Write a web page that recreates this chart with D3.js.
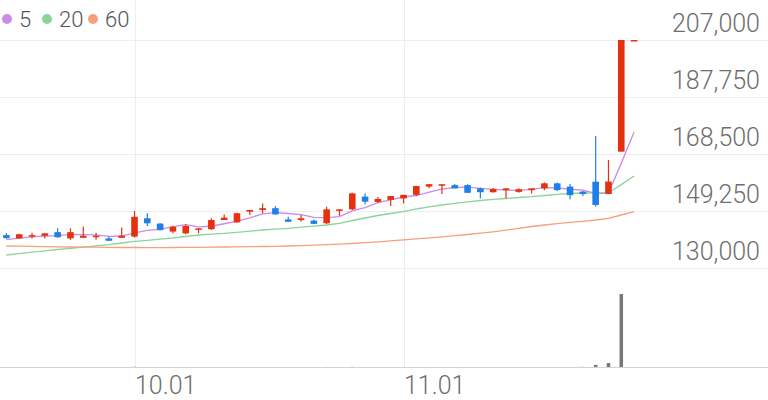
<!DOCTYPE html>
<html><head><meta charset="utf-8">
<script src="https://cdn.jsdelivr.net/npm/d3@7"></script>
<style>
html,body{margin:0;padding:0;background:#fff;}
svg{display:block;font-family:Roboto,"Noto Sans",sans-serif;}
</style></head>
<body>
<svg id="chart" width="768" height="400"></svg>
<script>
const dates = ["09.17","09.18","09.19","09.20","09.23","09.24","09.25","09.26","09.27","09.30",
"10.01","10.02","10.04","10.07","10.08","10.10","10.11","10.14","10.15","10.16","10.17","10.18","10.21","10.22","10.23","10.24","10.25","10.28","10.29","10.30","10.31",
"11.01","11.04","11.05","11.06","11.07","11.08","11.11","11.12","11.13","11.14","11.15","11.18","11.19","11.20","11.21","11.22","11.25","11.26","11.27"];
const open  = [141100,140000,140700,140900,142100,140000,140200,140400,140000,140200,140600,146800,145000,142300,141700,143100,143100,146200,145400,149000,149600,150200,146400,146200,146000,145100,149500,149800,154100,152300,153000,153500,154700,157500,157800,158000,158000,156900,155600,156300,155700,156300,156900,158600,157500,155800,159150,155000,169300,207000];
const high  = [141800,141600,141900,141800,143400,143400,144000,141900,140600,143700,149250,148500,145200,144300,144800,143400,146800,148100,148700,149600,151800,150900,147300,147900,146400,150700,149800,155400,155200,154000,154300,154700,157800,158400,158300,158400,158300,157200,157000,156900,156900,156900,158900,158900,158400,156100,174600,166500,207000,207000];
const low   = [139900,139900,140000,140000,140200,139500,140200,139500,139100,140200,140300,144200,142700,141700,141400,141700,142800,146200,145300,147900,148500,148000,145600,145600,144800,144900,147600,149600,151500,152000,150900,151800,154300,156900,155000,156900,155300,153500,155400,153500,155400,155200,156300,156000,153200,154300,150700,155000,169300,207000];
const close = [140100,141400,141100,141700,140400,142100,140900,140900,139200,140900,147300,145100,142800,143900,144200,143400,146200,147000,148500,149600,150200,148100,145600,146800,144900,149800,149800,155200,152400,153300,154300,154700,157700,158300,158300,156900,155400,155600,156700,156900,156600,156900,158600,156300,154600,155000,151300,159200,207000,207000];
const volume = [2500,1800,1500,2000,2200,1800,1600,1400,1800,2000,9000,3000,2400,1800,2000,1600,2800,1800,2400,1800,2000,1800,1600,1800,2000,3600,1800,8000,4000,2400,2200,1800,2800,2000,1600,1800,2000,1800,1600,1800,1600,1400,2000,1800,2400,8000,110000,210000,3850000,0];
const ma5  = [139600,140100,140500,140800,140940,141340,141240,141200,140700,140800,141840,142680,143060,144000,144660,143880,144100,144940,145860,146940,148300,148680,148400,148060,147120,147040,147380,149300,150420,152100,153000,153980,154480,155660,156660,157180,157320,156900,156580,156300,156240,156540,157140,157060,156600,156280,155160,155280,165420,175890];
const ma20 = [134390,134860,135340,135810,136250,136650,137060,137460,137900,138440,139020,139360,139730,140130,140640,141150,141420,141720,142060,142430,142830,143100,143410,143780,144120,144520,145100,146040,146890,147730,148410,149010,149930,150670,151280,151850,152360,152800,153200,153470,153810,154080,154490,154890,155160,155330,155400,155430,158170,161070];
const ma60 = [137430,137360,137300,137230,137160,137090,137060,137030,136960,136920,136920,136890,136890,136920,136960,136990,137030,137090,137130,137190,137260,137330,137430,137570,137700,137870,138040,138270,138540,138850,139190,139520,139860,140200,140540,140910,141310,141750,142230,142770,143410,144020,144520,145000,145400,145770,146210,146780,147900,149010];
const priceTicks = [130000,149250,168500,187750,207000];
const xTickLabels = ["10.01","11.01"];
const maNames = ["5","20","60"];

const W = 768, H = 400;
const UP = "#e6310f", DOWN = "#1f7fe8";
const maColors = ["#cb8ce8","#8cd49c","#f6a07c"];
const svg = d3.select("#chart");
const idx = d3.range(dates.length);

const x = d3.scaleBand().domain(idx).range([0, 640.5]);
const cx = i => x(i) + x.bandwidth()/2;
const y = d3.scaleLinear().domain([130000, 207000]).range([268, 40]);
const yv = d3.scaleLinear().domain([0, 3850000]).range([367, 294]);

// horizontal grid + labels
const gy = svg.append("g");
gy.selectAll("line").data(priceTicks).join("line")
  .attr("x1",0).attr("x2",W).attr("y1",d=>Math.round(y(d))+0.5).attr("y2",d=>Math.round(y(d))+0.5)
  .attr("stroke","#ededed").attr("stroke-width",1);
gy.selectAll("text").data(priceTicks).join("text")
  .attr("x",760).attr("y",d=>y(d)-8).attr("text-anchor","end")
  .attr("font-size",25).attr("font-weight",300).attr("fill","#6e6e6e")
  .text(d=>d3.format(",")(d));

// vertical grid + x labels
const tickIdx = xTickLabels.map(l => dates.indexOf(l));
const gx = svg.append("g");
gx.selectAll("line").data(tickIdx).join("line")
  .attr("x1",i=>Math.round(cx(i))+0.5).attr("x2",i=>Math.round(cx(i))+0.5)
  .attr("y1",0).attr("y2",367).attr("stroke","#ededed");
gx.selectAll("text").data(tickIdx).join("text")
  .attr("x",i=>Math.round(cx(i))).attr("y",394).attr("text-anchor","start")
  .attr("font-size",25).attr("font-weight",300).attr("fill","#6e6e6e")
  .text(i=>dates[i]);

// volume baseline
svg.append("line").attr("x1",0).attr("x2",W).attr("y1",367.5).attr("y2",367.5).attr("stroke","#d4d4d4");

// volume bars
svg.append("g").selectAll("rect").data(idx).join("rect")
  .attr("x",i=>cx(i)-1.75).attr("width",3.5)
  .attr("y",i=>yv(volume[i])).attr("height",i=>367-yv(volume[i]))
  .attr("fill","#777");

// moving averages
[ma5, ma20, ma60].forEach((arr,k)=>{
  svg.append("path").datum(arr)
    .attr("d", d3.line().x((d,i)=>cx(i)).y(d=>y(d)))
    .attr("fill","none").attr("stroke",maColors[k]).attr("stroke-width",1.3);
});

// candles
const gc = svg.append("g");
idx.forEach(i=>{
  const col = close[i] >= open[i] ? UP : DOWN;
  gc.append("line").attr("x1",cx(i)).attr("x2",cx(i))
    .attr("y1",y(high[i])).attr("y2",y(low[i])).attr("stroke",col).attr("stroke-width",1.2);
  const top = y(Math.max(open[i],close[i])), bot = y(Math.min(open[i],close[i]));
  gc.append("rect").attr("x",cx(i)-3.3).attr("width",6.6)
    .attr("y",top).attr("height",Math.max(1.5, bot-top)).attr("fill",col);
});

// legend
const lg = svg.append("g");
const legX = [7, 47, 93];
maNames.forEach((n,k)=>{
  lg.append("circle").attr("cx",legX[k]).attr("cy",19).attr("r",5).attr("fill",maColors[k]);
  lg.append("text").attr("x",legX[k]+12).attr("y",27).attr("font-size",22).attr("font-weight",300).attr("fill","#555").text(n);
});
</script>
</body></html>
